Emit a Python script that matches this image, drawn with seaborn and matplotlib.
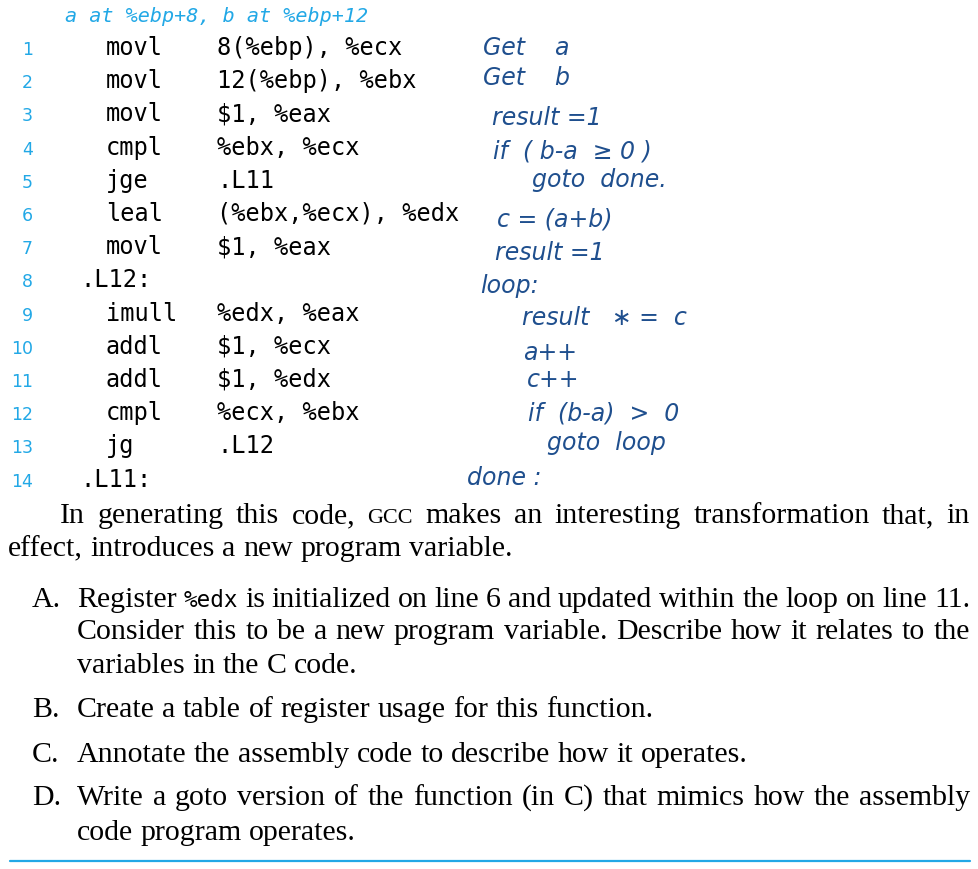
import matplotlib
matplotlib.use("Agg")
import matplotlib.pyplot as plt
import seaborn as sns

# assembly listing
header = "a at %ebp+8, b at %ebp+12"
line_numbers = list(range(1, 15))
instructions = ["movl", "movl", "movl", "cmpl", "jge", "leal", "movl",
                ".L12:", "imull", "addl", "addl", "cmpl", "jg", ".L11:"]
operands = ["8(%ebp), %ecx", "12(%ebp), %ebx", "$1, %eax", "%ebx, %ecx", ".L11",
            "(%ebx,%ecx), %edx", "$1, %eax", "", "%edx, %eax", "$1, %ecx",
            "$1, %edx", "%ecx, %ebx", ".L12", ""]

# handwritten notes
notes = ["Get    a", "Get    b", "result =1", "if  ( b-a  ≥ 0 )", "goto  done.",
         "c = (a+b)", "result =1", "loop:", "result   ∗ =  c", "a++", "c++",
         "if  (b-a)  >  0", "goto  loop", "done :"]
note_x = [483, 483, 492, 493, 532, 497, 495, 480, 522, 523, 527, 528, 547, 467]
note_y = [55, 85, 125, 158, 187, 226, 260, 293, 325, 360, 387, 420, 450, 485]

# body text
intro_lines = ["In generating this code, GCC makes an interesting transformation that, in",
               "effect, introduces a new program variable."]
q_labels = ["A.", "B.", "C.", "D."]
q_lines = [
    ["Register %edx is initialized on line 6 and updated within the loop on line 11.",
     "Consider this to be a new program variable. Describe how it relates to the",
     "variables in the C code."],
    ["Create a table of register usage for this function."],
    ["Annotate the assembly code to describe how it operates."],
    ["Write a goto version of the function (in C) that mimics how the assembly",
     "code program operates."],
]

BLUE = "#22a8e6"
INK = "#1f4f8e"
BODY = 21.5
MONO = "DejaVu Sans Mono"

sns.set_theme(style="white")
plt.rcParams["font.family"] = ["Liberation Serif", "DejaVu Serif"]
plt.rcParams["text.color"] = "black"

fig = plt.figure(figsize=(9.79, 8.69), dpi=100)
ax = fig.add_axes([0, 0, 1, 1])
ax.set_xlim(0, 979)
ax.set_ylim(869, 0)
ax.axis("off")
renderer = fig.canvas.get_renderer()


def put_line(text, x0, y, x1=None):
    arts = []
    for w in text.split():
        if w.startswith("GCC"):
            t = ax.text(0, y, w, fontsize=BODY * 0.74, va="baseline")
        elif w.startswith("%edx"):
            t = ax.text(0, y, w, fontsize=BODY * 0.76, va="baseline", family=MONO)
        else:
            t = ax.text(0, y, w, fontsize=BODY, va="baseline")
        arts.append(t)
    widths = [a.get_window_extent(renderer).width for a in arts]
    gap = 0.25 * BODY * 100 / 72
    if x1 is not None and len(arts) > 1:
        gap = (x1 - x0 - sum(widths)) / (len(arts) - 1)
    x = x0
    for a, w in zip(arts, widths):
        a.set_x(x)
        x += w + gap


# header and code
ax.text(65, 22, header, color=BLUE, fontsize=14.5, style="italic",
        family=MONO, va="baseline")
for i, (n, ins, op) in enumerate(zip(line_numbers, instructions, operands)):
    y = 55 + i * 33.2
    ax.text(33, y, str(n), color=BLUE, fontsize=12.5, family="DejaVu Sans",
            ha="right", va="baseline")
    if ins.startswith(".L"):
        ax.text(80, y, ins, fontsize=17, family=MONO, va="baseline")
    else:
        ax.text(106, y, ins, fontsize=17, family=MONO, va="baseline")
        ax.text(217, y, op, fontsize=17, family=MONO, va="baseline")

for txt, x, y in zip(notes, note_x, note_y):
    ax.text(x, y, txt, color=INK, fontsize=17, style="italic",
            family="DejaVu Sans", va="baseline")

# paragraph
put_line(intro_lines[0], 60, 523, 970)
put_line(intro_lines[1], 8, 556)

q_base = [[607, 639, 673], [717], [762], [805, 840]]
for lab, lines, ys in zip(q_labels, q_lines, q_base):
    ax.text(32, ys[0], lab, fontsize=BODY, va="baseline")
    for k, (ln, y) in enumerate(zip(lines, ys)):
        put_line(ln, 77, y, 970 if k < len(lines) - 1 else None)

ax.plot([10, 970], [861, 861], color=BLUE, lw=1.6)
sns.despine(ax=ax, left=True, bottom=True)

fig.savefig("out.png", dpi=100)
